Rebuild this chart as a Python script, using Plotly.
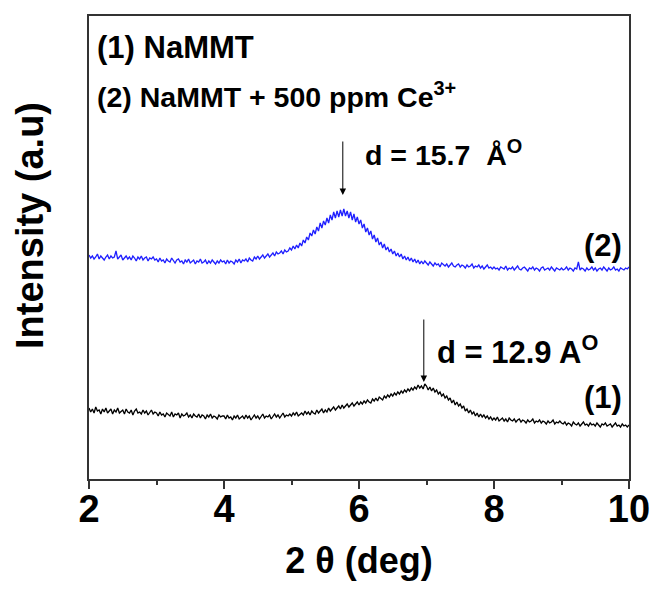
import plotly.graph_objects as go

# 2-theta grid (deg), step 0.025 from 2 to 10
two_theta = [round(2 + 0.025 * i, 3) for i in range(321)]

# (1) NaMMT  (arbitrary intensity units)
intensity_1 = [
    71, 67, 70, 66, 72, 68, 69, 65, 70, 67, 71, 66, 68, 70, 65, 69, 67, 71, 66, 68,
    69, 65, 70, 67, 66, 69, 64, 68, 70, 66, 67, 65, 69, 66, 68, 64, 67, 69, 65, 67,
    66, 63, 67, 64, 65, 62, 66, 64, 63, 67, 62, 65, 64, 66, 61, 65, 63, 64, 66, 62,
    64, 61, 65, 63, 62, 65, 61, 64, 63, 60, 64, 62, 65, 61, 63, 62, 60, 64, 62, 63,
    63, 60, 64, 61, 62, 59, 63, 61, 64, 60, 62, 63, 60, 64, 61, 63, 59, 62, 64, 61,
    63, 60, 62, 65, 61, 63, 62, 64, 60, 63, 65, 62, 64, 61, 63, 66, 62, 64, 63, 65,
    63, 66, 64, 67, 63, 65, 66, 64, 68, 65, 67, 64, 68, 66, 65, 69, 66, 68, 70, 66,
    69, 67, 71, 68, 70, 72, 69, 71, 73, 70, 74, 71, 73, 75, 72, 74, 76, 73, 75, 77,
    74, 77, 75, 78, 76, 79, 77, 76, 80, 78, 81, 78, 82, 80, 79, 83, 81, 84, 82, 85,
    83, 86, 84, 87, 85, 88, 86, 89, 87, 90, 88, 91, 89, 92, 90, 94, 91, 93, 90, 95,
    93, 89, 92, 88, 91, 87, 89, 85, 87, 83, 85, 81, 83, 79, 81, 76, 79, 74, 77, 73,
    75, 71, 73, 68, 70, 66, 69, 65, 67, 63, 66, 62, 65, 62, 64, 61, 63, 60, 62, 59,
    61, 59, 62, 58, 60, 61, 58, 60, 57, 61, 59, 58, 60, 57, 59, 60, 57, 59, 58, 56,
    59, 57, 58, 60, 56, 58, 57, 59, 56, 58, 57, 55, 58, 56, 57, 59, 55, 57, 56, 58,
    56, 55, 57, 54, 56, 55, 53, 57, 55, 54, 56, 53, 55, 57, 54, 55, 53, 56, 54, 55,
    53, 56, 54, 52, 55, 54, 56, 53, 54, 55, 52, 54, 56, 53, 54, 52, 55, 53, 54, 52,
    54,
]

# (2) NaMMT + 500 ppm Ce3+  (arbitrary intensity units, offset)
intensity_2 = [
    224, 221, 223, 220, 222, 225, 220, 223, 221, 219, 222, 224, 220, 223, 221, 222, 228, 220, 222, 224,
    219, 221, 223, 220, 222, 219, 223, 221, 218, 222, 220, 223, 219, 221, 222, 218, 221, 220, 222, 219,
    220, 217, 221, 218, 219, 216, 220, 218, 217, 221, 218, 216, 219, 220, 217, 218, 215, 219, 217, 220,
    216, 218, 219, 215, 218, 217, 220, 216, 217, 219, 215, 218, 216, 219, 217, 215, 218, 216, 219, 217,
    218, 215, 219, 216, 218, 217, 215, 219, 217, 220, 216, 219, 218, 220, 217, 221, 219, 218, 222, 220,
    223, 220, 222, 224, 221, 223, 225, 222, 224, 226, 223, 227, 225, 226, 228, 225, 229, 227, 228, 231,
    229, 233, 230, 234, 231, 236, 233, 239, 236, 242, 239, 246, 243, 249, 245, 252, 248, 256, 251, 258,
    254, 261, 256, 264, 259, 267, 261, 268, 262, 269, 263, 270, 263, 268, 261, 267, 259, 265, 257, 262,
    255, 259, 251, 255, 247, 251, 244, 248, 240, 244, 237, 241, 234, 237, 231, 235, 229, 232, 227, 230,
    225, 228, 223, 226, 222, 225, 220, 223, 219, 222, 218, 221, 217, 220, 216, 219, 215, 218, 215, 218,
    216, 214, 217, 215, 213, 216, 214, 215, 212, 216, 214, 213, 215, 212, 214, 216, 213, 212, 214, 215,
    212, 214, 213, 211, 214, 212, 213, 215, 211, 213, 212, 214, 211, 213, 210, 212, 214, 211, 212, 210,
    212, 210, 211, 209, 212, 211, 210, 213, 209, 211, 210, 212, 209, 211, 213, 210, 209, 211, 212, 210,
    208, 211, 210, 212, 209, 211, 210, 208, 211, 212, 209, 210, 211, 209, 212, 210, 208, 211, 210, 209,
    211, 209, 210, 212, 209, 211, 210, 208, 211, 210, 217, 209, 211, 210, 208, 211, 209, 210, 212, 209,
    211, 208, 210, 211, 209, 212, 210, 208, 211, 209, 210, 212, 209, 210, 208, 211, 210, 209, 211, 210,
    212,
]

x_ticks = [2, 4, 6, 8, 10]
x_minor = [3, 5, 7, 9]
y_range = [0, 463]

FONT = "Liberation Sans, Arial, sans-serif"
AX = "#333333"

fig = go.Figure()
fig.add_trace(go.Scatter(x=two_theta, y=intensity_1, mode="lines",
                         line=dict(color="black", width=1.3), name="(1)"))
fig.add_trace(go.Scatter(x=two_theta, y=intensity_2, mode="lines",
                         line=dict(color="#1f1fff", width=1.3), name="(2)"))

def txt(text, x, y, size=30, xanchor="left", yanchor="middle"):
    return dict(text=text, x=x, y=y, xref="x", yref="y", showarrow=False,
                xanchor=xanchor, yanchor=yanchor,
                font=dict(family=FONT, size=size, color="black", weight="bold"))

def arrow(x, y_tip, y_tail):
    return dict(text="", x=x, y=y_tip, ax=x, ay=y_tail, xref="x", yref="y",
                axref="x", ayref="y", showarrow=True, arrowhead=2, arrowsize=1.3,
                arrowwidth=1, arrowcolor="black", standoff=0, startstandoff=0)

annotations = [
    txt("(1) NaMMT", 2.09, 432, size=31),
    txt("(2) NaMMT + 500 ppm Ce<sup>3+</sup>", 2.09, 384, size=28.5),
    txt("d = 15.7&nbsp;&nbsp;Å<sup>O</sup>", 6.06, 326, size=28.5),
    txt("d = 12.9 A<sup>O</sup>", 7.13, 129, size=31),
    txt("(2)", 9.93, 234, size=31, xanchor="right"),
    txt("(1)", 9.93, 82, size=31, xanchor="right"),
    arrow(5.76, 284, 339),
    arrow(6.96, 97, 161),
    dict(text="Intensity (a.u)", x=(30 - 89) / 540, y=(479 - 226) / 463,
         xref="paper", yref="paper",
         showarrow=False, textangle=-90, xanchor="center", yanchor="middle",
         font=dict(family=FONT, size=38, color="black", weight="bold")),
]

fig.update_layout(
    width=656, height=590,
    margin=dict(l=89, r=27, t=16, b=111, autoexpand=False),
    paper_bgcolor="white", plot_bgcolor="white",
    showlegend=False,
    annotations=annotations,
    xaxis=dict(
        range=[2, 10], tickvals=x_ticks, ticktext=[str(v) for v in x_ticks],
        automargin=False,
        ticks="outside", ticklen=8, tickwidth=1.5, tickcolor=AX,
        showline=True, linecolor=AX, linewidth=1.5, mirror=True,
        showgrid=False, zeroline=False,
        minor=dict(ticks="outside", ticklen=4, tickwidth=1.5, tickcolor=AX,
                   tickvals=x_minor),
        ticklabelstandoff=-12,
        tickfont=dict(family=FONT, size=38, color="black", weight="bold"),
        title=dict(text="2 θ (deg)", standoff=18,
                   font=dict(family=FONT, size=36, color="black", weight="bold")),
    ),
    yaxis=dict(
        range=y_range, showticklabels=False, ticks="", automargin=False,
        showline=True, linecolor=AX, linewidth=1.5, mirror=True,
        showgrid=False, zeroline=False,
    ),
)

fig.write_html("out.html")
